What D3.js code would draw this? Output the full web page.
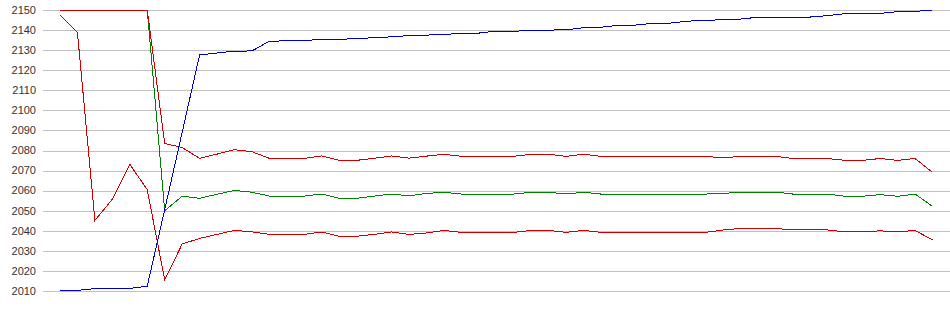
<!DOCTYPE html>
<html>
<head>
<meta charset="utf-8">
<script src="https://cdn.jsdelivr.net/npm/d3@7"></script>
<style>
  html, body { margin: 0; padding: 0; background: #fff; }
  svg { display: block; }
  .chart__label { font-family: "Liberation Sans", Arial, sans-serif; font-size: 11px; fill: #333; }
</style>
</head>
<body>
<div id="chart"></div>
<script>
// y axis ticks
const yTicks = [2010, 2020, 2030, 2040, 2050, 2060, 2070, 2080, 2090, 2100, 2110, 2120, 2130, 2140, 2150]

// series (one value per bar, 51 bars)
const blueSeries = [
  2010.2, 2010.3, 2011.2, 2011.3, 2011.3, 2012.4, 2050.5, 2089, 2127.6, 2128.6,
  2129.5, 2129.6, 2134.5, 2134.6, 2134.8, 2135.4, 2135.5, 2135.6, 2136.3, 2136.6,
  2137.3, 2137.5, 2137.8, 2138.4, 2138.5, 2139.5, 2139.5, 2139.6, 2140, 2140.1,
  2141.2, 2141.4, 2142.4, 2142.5, 2143.4, 2143.5, 2144.5, 2144.6, 2145.4, 2145.5,
  2146.4, 2146.4, 2146.5, 2146.5, 2147.2, 2148.2, 2148.3, 2148.3, 2149.2, 2149.3,
  2150
]
const middleSeries = [
  2150, 2150, 2150, 2150, 2150, 2150, 2050, 2057.2, 2056.2, 2058.2,
  2060.1, 2059.2, 2057.3, 2057.3, 2057.3, 2058.3, 2056.2, 2056.2, 2057.3, 2058.3,
  2057.4, 2058.6, 2059.2, 2058.3, 2058.3, 2058.3, 2058.3, 2059.2, 2059.2, 2058.3,
  2059.2, 2058.3, 2058.3, 2058.3, 2058.3, 2058.3, 2058.3, 2058.3, 2058.6, 2059.3,
  2059.3, 2059.3, 2058.3, 2058.3, 2058.3, 2057.2, 2057.2, 2058, 2057.2, 2058.3,
  2052.2
]
const upperSeries = [
  2150, 2150, 2150, 2150, 2150, 2150, 2083.5, 2081.5, 2076.1, 2078.2,
  2080.4, 2079.4, 2076.1, 2076.1, 2076.1, 2077.3, 2075.1, 2075.1, 2076.1, 2077.3,
  2076.2, 2077.2, 2078.1, 2077.1, 2077.1, 2077.1, 2077.1, 2078.1, 2078.1, 2077.1,
  2078.1, 2077.1, 2077.1, 2077.1, 2077.1, 2077.1, 2077.1, 2077.1, 2076.3, 2077.1,
  2077.1, 2077.1, 2076, 2076, 2076, 2075.1, 2075.1, 2076, 2075.1, 2076,
  2069.1
]
const lowerSeries = [
  2147.4, 2138.7, 2045.2, 2055.7, 2073.1, 2060.5, 2015.5, 2033.4, 2036.2, 2038.2,
  2040.2, 2039.5, 2038.2, 2038.2, 2038.2, 2039.4, 2037.3, 2037.3, 2038.2, 2039.4,
  2038.2, 2038.9, 2040.2, 2039.2, 2039.2, 2039.2, 2039.2, 2040.2, 2040.2, 2039.2,
  2040.2, 2039.2, 2039.2, 2039.2, 2039.2, 2039.2, 2039.2, 2039.2, 2040.4, 2041.2,
  2041.2, 2041.2, 2040.4, 2040.4, 2040.4, 2039.4, 2039.4, 2040, 2039.4, 2040.2,
  2035.4
]

const width = 950
const height = 315

const svg = d3.select('#chart').append('svg')
  .attr('width', width)
  .attr('height', height)

const x = d3.scaleLinear()
  .domain([0, blueSeries.length - 1])
  .range([60, 932.5])

const y = d3.scaleLinear()
  .domain([2010, 2150])
  .range([291, 10])

// horizontal grid
svg.append('g')
  .attr('class', 'chart__grid')
  .selectAll('line')
  .data(yTicks)
  .enter()
  .append('line')
  .attr('x1', 43)
  .attr('x2', width)
  .attr('y1', d => Math.round(y(d)) + 0.5)
  .attr('y2', d => Math.round(y(d)) + 0.5)
  .attr('stroke', '#c0c0c0')
  .attr('stroke-width', 1)

// tick labels
svg.append('g')
  .selectAll('text')
  .data(yTicks)
  .enter()
  .append('text')
  .attr('class', 'chart__label')
  .attr('x', 36)
  .attr('y', d => y(d))
  .attr('dy', '0.35em')
  .attr('text-anchor', 'end')
  .text(d => d)

const line = d3.line()
  .x((d, i) => x(i))
  .y(d => y(d))

// green first, then the two bands, blue on top
const series = [
  { values: middleSeries, color: '#008000' },
  { values: upperSeries, color: '#cc0000' },
  { values: lowerSeries, color: '#cc0000' },
  { values: blueSeries, color: '#0000cc' }
]

svg.append('g')
  .attr('class', 'chart__lines')
  .selectAll('path')
  .data(series)
  .enter()
  .append('path')
  .attr('d', d => line(d.values))
  .attr('fill', 'none')
  .attr('stroke', d => d.color)
  .attr('stroke-width', 1)
  .attr('shape-rendering', 'crispEdges')
</script>
</body>
</html>
